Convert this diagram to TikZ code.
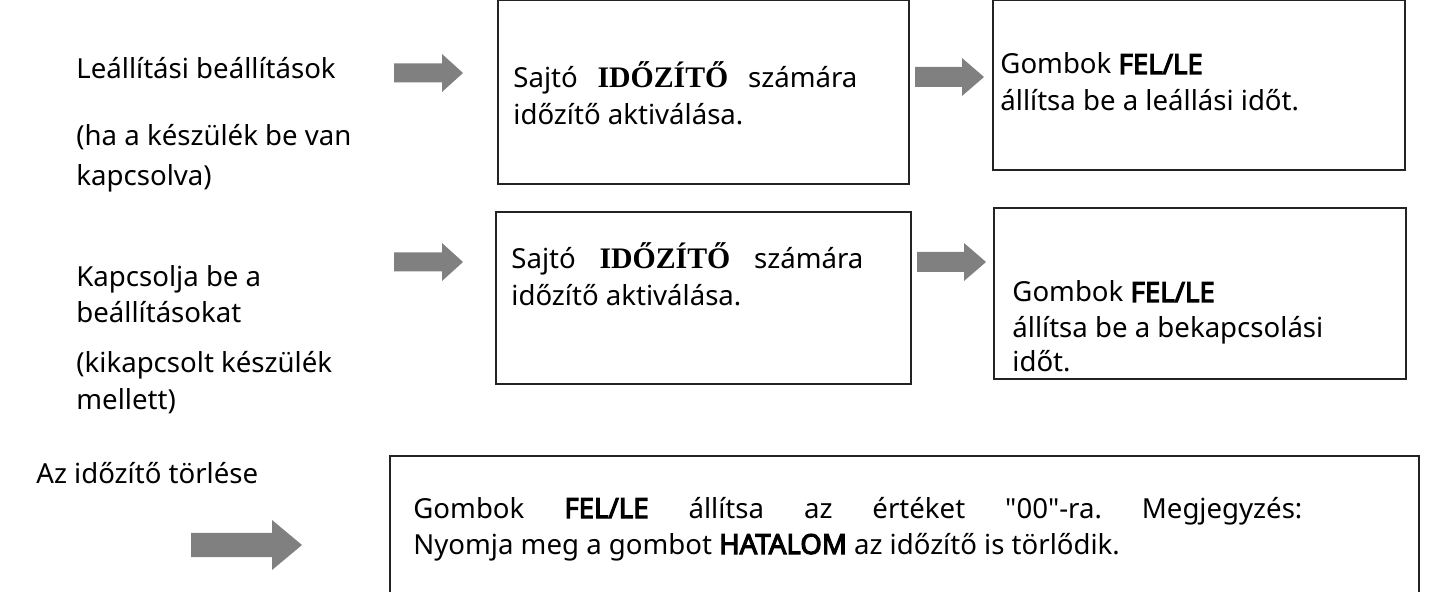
\documentclass[tikz,border=0pt]{standalone}
\usepackage{fontspec}
\setmainfont{Noto Sans}[BoldFont={Noto Sans}, BoldFeatures={FakeBold=4}]
\newfontfamily\qfont{Noto Sans}
\newfontfamily\serifb{Liberation Serif}[Scale=1.08]
\definecolor{arrowgray}{RGB}{128,128,128}
\definecolor{boxline}{RGB}{35,35,35}
\tikzset{
  lbl/.style={anchor=base west, inner sep=0pt, font=\fontsize{13.8}{17}\selectfont},
  frame/.style={draw=boxline, line width=1.2pt, anchor=north west, inner sep=0pt},
}
% #1 x-start, #2 y-centre, #3 length, #4 shaft, #5 head, #6 head length
\newcommand\garrow[6]{%
  \fill[arrowgray] ({#1},{#2-#4/2}) -- ({#1+#3-#6},{#2-#4/2}) -- ({#1+#3-#6},{#2-#5/2})
    -- ({#1+#3},{#2}) -- ({#1+#3-#6},{#2+#5/2}) -- ({#1+#3-#6},{#2+#4/2})
    -- ({#1},{#2+#4/2}) -- cycle;}
\newcommand\ser[1]{\textbf{\serifb #1}}
\newcommand\sq{{\qfont"}}
\frenchspacing
\begin{document}
\begin{tikzpicture}[x=0.5pt,y=-0.5pt]
\useasboundingbox (0,0) rectangle (1434,592);
% boxes
\node[frame, minimum width=205.5pt, minimum height=92pt] (b1) at (497,-1) {};
\node[frame, minimum width=206pt, minimum height=85pt] (b2) at (992,-1) {};
\node[frame, minimum width=207.5pt, minimum height=86pt] (b3) at (495,211) {};
\node[frame, minimum width=206pt, minimum height=85.5pt] (b4) at (993,207) {};
\node[frame, minimum width=514.5pt, minimum height=75pt] (b5) at (389,455) {};
% arrows
\garrow{394}{73}{69}{19}{38}{21}
\garrow{915}{77}{69}{20}{38}{22}
\garrow{394}{262}{69}{19}{38}{21}
\garrow{917}{262}{69}{20}{38}{22}
\garrow{191}{545}{111}{24}{50}{30}
% left column
\node[lbl] (l1) at (76,79) {Leállítási beállítások};
\node[lbl] (l2) at (76,146) {(ha a készülék be van};
\node[lbl] (l3) at (76,186) {kapcsolva)};
\node[lbl] (l4) at (76,287) {Kapcsolja be a};
\node[lbl] (l5) at (76,323) {beállításokat};
\node[lbl] (l6) at (76,373) {(kikapcsolt készülék};
\node[lbl] (l7) at (76,410) {mellett)};
\node[lbl] (l8) at (36,484) {Az időzítő törlése};
% box texts
\node[lbl] (t1a) at (513,88) {\hbox to 172pt{Sajtó \ser{IDŐZÍTŐ} számára}};
\node[lbl] (t1b) at (513,125) {időzítő aktiválása.};
\node[lbl] (t2a) at (1000,74) {Gombok \textbf{FEL/LE}};
\node[lbl] (t2b) at (1000,111) {állítsa be a leállási időt.};
\node[lbl] (t3a) at (511,269) {\hbox to 176pt{Sajtó \ser{IDŐZÍTŐ} számára}};
\node[lbl] (t3b) at (511,306) {időzítő aktiválása.};
\node[lbl] (t4a) at (1012,302) {Gombok \textbf{FEL/LE}};
\node[lbl] (t4b) at (1012,338) {állítsa be a bekapcsolási};
\node[lbl] (t4c) at (1012,372) {időt.};
\node[lbl] (t5a) at (413,518) {\hbox to 444.5pt{Gombok \textbf{FEL/LE} állítsa az értéket \sq 00\sq-ra. Megjegyzés:}};
\node[lbl] (t5b) at (413,554) {Nyomja meg a gombot \textbf{HATALOM} az időzítő is törlődik.};
\end{tikzpicture}
\end{document}
